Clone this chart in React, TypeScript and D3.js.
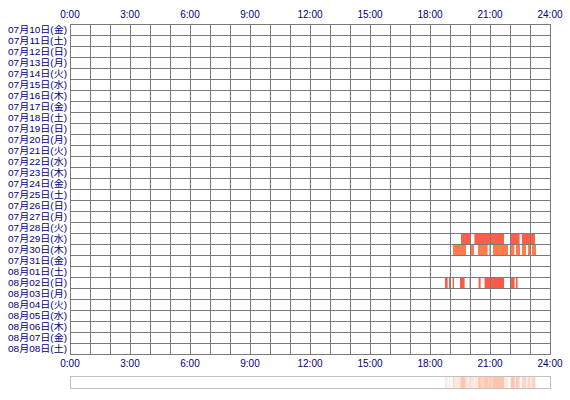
import React from 'react';
import * as d3 from 'd3';

const days = [
  '07月10日(金)', '07月11日(土)', '07月12日(日)', '07月13日(月)', '07月14日(火)',
  '07月15日(水)', '07月16日(木)', '07月17日(金)', '07月18日(土)', '07月19日(日)',
  '07月20日(月)', '07月21日(火)', '07月22日(水)', '07月23日(木)', '07月24日(金)',
  '07月25日(土)', '07月26日(日)', '07月27日(月)', '07月28日(火)', '07月29日(水)',
  '07月30日(木)', '07月31日(金)', '08月01日(土)', '08月02日(日)', '08月03日(月)',
  '08月04日(火)', '08月05日(水)', '08月06日(木)', '08月07日(金)', '08月08日(土)',
];

const hourTicks = [0, 3, 6, 9, 12, 15, 18, 21, 24];

// active spans, [start hour, end hour]
const jul29: [number, number][] = [
  [19.55, 20.0], [20.22, 21.7], [22.03, 22.48], [22.6, 23.25],
];
const jul30: [number, number][] = [
  [19.15, 19.8], [20.0, 20.2], [20.4, 20.88], [20.97, 21.03], [21.15, 21.9],
  [22.03, 22.22], [22.3, 22.5], [22.6, 22.8], [22.9, 23.0], [23.1, 23.3],
];
const aug02: [number, number][] = [
  [18.75, 18.88], [18.95, 19.0], [19.13, 19.2], [19.5, 19.73], [19.98, 20.05],
  [20.43, 20.53], [20.73, 21.7], [22.05, 22.23], [22.3, 22.38],
];

const activity = [
  { day: '07月29日(水)', spans: jul29, color: '#ff5f45' },
  { day: '07月30日(木)', spans: jul30, color: '#ff7b4b' },
  { day: '08月02日(日)', spans: aug02, color: '#ff5a45' },
];

const W = 570;
const H = 400;
const labelFont = '"Liberation Sans", "Noto Sans CJK JP", sans-serif';

export default function App() {
  const x = d3.scaleLinear().domain([0, 24]).range([70, 550]);
  const y = d3.scaleBand<string>().domain(days).range([24, 354]);
  const hours = d3.range(0, 25);

  return (
    <svg width={W} height={H} style={{ position: 'absolute', left: 0, top: 0, background: '#fff' }}>
      {/* bars */}
      {activity.map(a =>
        a.spans.map(([s, e], i) => (
          <rect
            key={a.day + i}
            x={x(s)}
            y={y(a.day)!}
            width={x(e) - x(s)}
            height={y.bandwidth()}
            fill={a.color}
          />
        ))
      )}

      {/* grid */}
      <g stroke="#7a7a7a" strokeWidth={1} shapeRendering="crispEdges">
        {hours.map(h => (
          <line key={'v' + h} x1={x(h) + 0.5} x2={x(h) + 0.5} y1={24} y2={355} />
        ))}
        {days.map(d => (
          <line key={'h' + d} x1={70} x2={551} y1={y(d)! + 0.5} y2={y(d)! + 0.5} />
        ))}
        <line x1={70} x2={551} y1={354.5} y2={354.5} />
      </g>

      {/* day labels */}
      <g fontFamily={labelFont} fontSize={9.5} fill="#000080" textAnchor="end">
        {days.map(d => (
          <text
            key={d}
            x={67}
            y={y(d)! + y.bandwidth() / 2 + 3.6}
            textLength={59}
            lengthAdjust="spacingAndGlyphs"
          >{d}</text>
        ))}
      </g>

      {/* hour labels, top and bottom */}
      <g fontFamily={labelFont} fontSize={10} fill="#000080" textAnchor="middle">
        {hourTicks.map(h => (
          <text key={'t' + h} x={x(h)} y={18}>{h}:00</text>
        ))}
        {hourTicks.map(h => (
          <text key={'b' + h} x={x(h)} y={367}>{h}:00</text>
        ))}
      </g>

      {/* overview strip */}
      <g>
        {activity.map(a =>
          a.spans.map(([s, e], i) => (
            <rect
              key={'o' + a.day + i}
              x={x(s)}
              y={377}
              width={x(e) - x(s)}
              height={11}
              fill="#ff7f50"
              fillOpacity={0.18}
            />
          ))
        )}
        <rect x={70.5} y={376.5} width={480} height={12} fill="none" stroke="#c0c0c0" strokeWidth={1} />
      </g>
    </svg>
  );
}
